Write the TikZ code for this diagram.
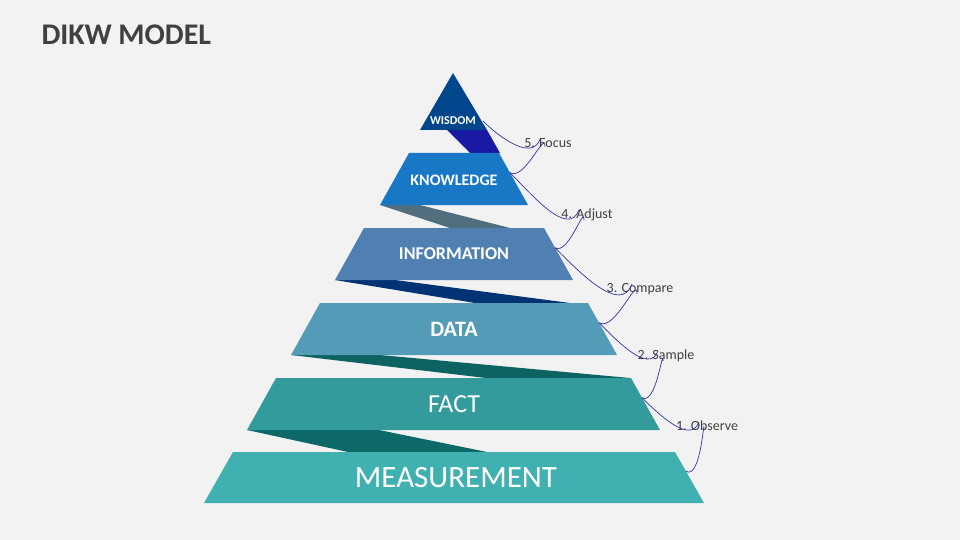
\documentclass[tikz,border=0pt]{standalone}
\usepackage{fontspec}
\setmainfont{Carlito}
\usetikzlibrary{calc}
\begin{document}
\begin{tikzpicture}[x=1pt,y=-1pt,
  lvltext/.style={text=white,inner sep=0pt},
  steplabel/.style={text=black!75,font=\fontsize{14}{16}\selectfont,inner sep=1pt},
  arcline/.style={draw=blue!55!black!80,line width=0.7pt}]
	% Background
	\fill [gray!10] (0,0) rectangle (960,540);
	\node [anchor=west,text=black!75,font=\fontsize{30}{34}\selectfont\bfseries] (title) at (38,35) {DIKW MODEL};
	
	% Ribbons
	\fill [blue!60!black!90] (447,130) -- (487,130) -- (500,153) -- (470,153) -- cycle;
	\fill [cyan!40!black!95] (380,205) -- (420,205) -- (510,228) -- (450,228) -- cycle;
	\fill [teal!60!blue!65!black] (335,280) -- (395,280) -- (570,303) -- (475,303) -- cycle;
	\fill [teal!70!black!95] (291,355) -- (380,355) -- (630,378) -- (486,378) -- cycle;
	\fill [teal!75!black!95] (247,430) -- (379,430) -- (487,452) -- (348,452) -- cycle;
	
	% Levels
	\fill [blue!50!cyan!55!black] (453,73) -- (487,130) -- (420,130) -- cycle;
	\foreach \name/\yt/\yb/\xbl/\xbr/\col in {
	    know/153/205/380/528/{blue!45!cyan!75!black!90},
	    info/228/280/335/573/{cyan!60!blue!75!black!85},
	    data/303/355/291/617/{cyan!75!teal!75!black!85},
	    fact/378/430/247/660/{teal!80!cyan!85!black!80},
	    meas/452/503/204/704/{teal!70!cyan!90!black!75}} {
	  \fill [\col] (\xbl+29,\yt) coordinate (\name-tl) -- (\xbr-29,\yt) coordinate (\name-tr)
	      -- (\xbr,\yb) coordinate (\name-br) -- (\xbl,\yb) -- cycle;
	  \coordinate (\name-e) at ($(\name-tr)!0.38!(\name-br)$);
	}
	\coordinate (wis-e) at (483,121);
	
	% Level names
	\node [lvltext,font=\fontsize{12}{14}\selectfont\bfseries] (wis) at (453,121) {WISDOM};
	\node [lvltext,font=\fontsize{16}{18}\selectfont\bfseries] (know) at (454,180) {KNOWLEDGE};
	\node [lvltext,font=\fontsize{18}{20}\selectfont\bfseries] (info) at (454,254) {INFORMATION};
	\node [lvltext,font=\fontsize{22}{24}\selectfont\bfseries] (data) at (454,329) {DATA};
	\node [lvltext,font=\fontsize{26}{28}\selectfont] (fact) at (454,404) {FACT};
	\node [lvltext,font=\fontsize{31}{33}\selectfont] (meas) at (456,478) {MEASUREMENT};
	
	% Steps
	\node [steplabel] (s5) at (548,143) {5. Focus};
	\node [steplabel] (s4) at (587,215) {4. Adjust};
	\node [steplabel] (s3) at (640,289) {3. Compare};
	\node [steplabel] (s2) at (666,356) {2. Sample};
	\node [steplabel] (s1) at (707,426) {1. Observe};
	\foreach \up/\lo/\s in {wis/know/s5,know/info/s4,info/data/s3,data/fact/s2,fact/meas/s1} {
	  \draw [arcline] (\up-e) to[out=-45,in=-110] ([xshift=-8pt,yshift=-2pt]\s.north);
	  \draw [arcline] ([xshift=-3pt,yshift=2pt]\s.south) to[out=90,in=-30] (\lo-e);
	}
\end{tikzpicture}
\end{document}
